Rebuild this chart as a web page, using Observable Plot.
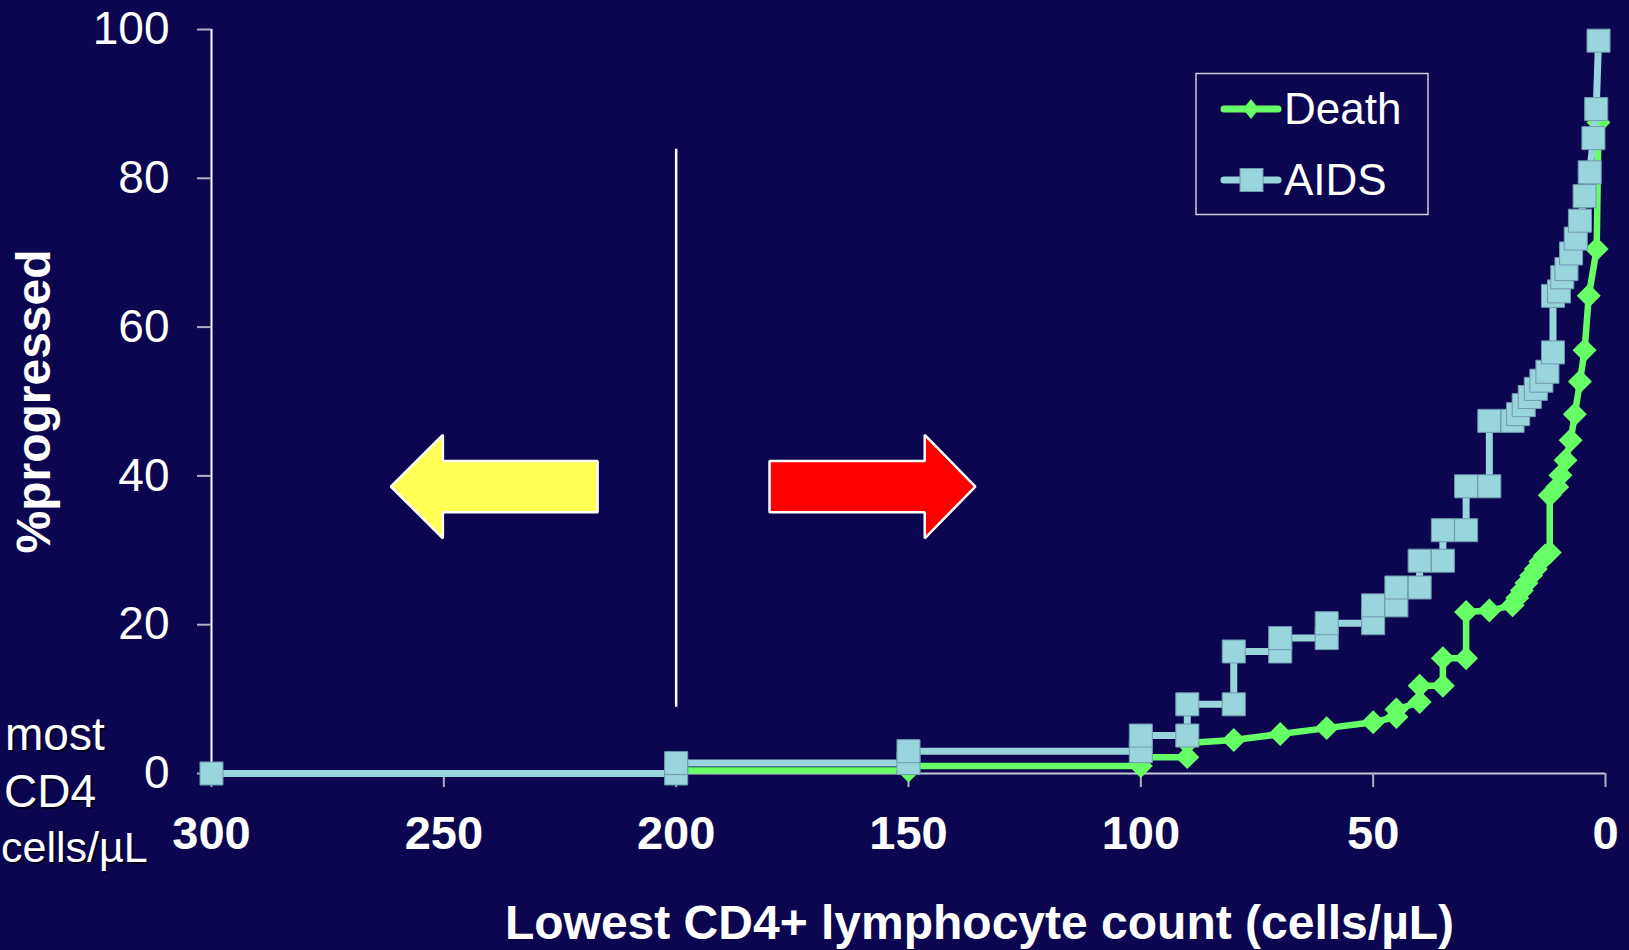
<!DOCTYPE html>
<html>
<head>
<meta charset="utf-8">
<script src="https://cdn.jsdelivr.net/npm/d3@7"></script>
<script src="https://cdn.jsdelivr.net/npm/@observablehq/plot@0.6"></script>
<style>
html, body { margin: 0; padding: 0; background: #0b064f; }
#wrap { position: relative; width: 1629px; height: 950px; overflow: hidden; font-family: "Liberation Sans", Arial, sans-serif; }
#overlay { position: absolute; left: 0; top: 0; pointer-events: none; }
</style>
</head>
<body>
<div id="wrap"></div>
<script>
// ---- data ----
const xTicks = [300, 250, 200, 150, 100, 50, 0];
const yTicks = [0, 20, 40, 60, 80, 100];

const deathCD4 = [300, 200, 200, 150, 150, 100, 100, 90, 90, 80, 70, 60, 50, 45, 45, 40, 40, 35, 35, 30, 30, 25, 20, 19, 18, 17, 16, 15, 14, 13, 12, 12, 10.4, 9.7, 8.6, 7.5, 6.6, 5.5, 4.5, 3.6, 1.9, 1.5];
const deathPct = [0, 0, 0.4, 0.4, 1.0, 1.0, 2.2, 2.2, 4.1, 4.5, 5.3, 6.1, 6.9, 7.6, 8.6, 9.6, 11.8, 11.8, 15.5, 15.5, 21.7, 21.9, 22.6, 23.6, 24.6, 25.6, 26.6, 27.5, 28.5, 29.3, 29.7, 37.4, 38.5, 40.1, 42.1, 44.8, 48.3, 52.7, 56.9, 64.2, 70.5, 87.5];

const aidsCD4 = [300, 200, 200, 150, 150, 100, 100, 90, 90, 80, 80, 70, 70, 60, 60, 50, 50, 45, 45, 40, 40, 35, 35, 30, 30, 25, 25, 20, 18.8, 17.6, 16.3, 15.0, 13.8, 12.5, 11.3, 11.3, 10.0, 9.3, 8.4, 7.4, 6.4, 5.5, 4.5, 3.4, 2.6, 2.0, 1.5];
const aidsPct = [0, 0, 1.4, 1.4, 3.0, 3.0, 5.1, 5.1, 9.3, 9.3, 16.4, 16.4, 18.2, 18.2, 20.2, 20.2, 22.6, 22.6, 25.0, 25.0, 28.6, 28.6, 32.7, 32.7, 38.6, 38.6, 47.4, 47.4, 48.3, 49.5, 50.6, 51.7, 52.8, 54.0, 56.6, 64.2, 64.8, 66.7, 67.8, 69.9, 71.9, 74.3, 77.6, 80.8, 85.4, 89.3, 98.5];

const seriesNames = ["Death", "AIDS"];
const seriesColors = ["#66ff66", "#99d5dc"];

const cutoffCD4 = [200];
const cutoffFrom = [8.9];
const cutoffTo = [83.9];

const arrowTail = [216.8, 179.8];
const arrowHeadBase = [250.1, 146.4];
const arrowTip = [261.3, 135.5];
const arrowCenter = [38.5, 38.5];
const arrowBodyHalf = [3.45, 3.45];
const arrowHeadHalf = [6.95, 6.95];
const arrowColors = ["#ffff55", "#ff0000"];

const xLabel = "Lowest CD4+ lymphocyte count (cells/µL)";
const yLabel = "%progressed";
const sideNote = ["most", "CD4", "cells/µL"];

// ---- build tables ----
const death = deathCD4.map((x, i) => ({x, y: deathPct[i]}));
const aids = aidsCD4.map((x, i) => ({x, y: aidsPct[i]}));
const cutoff = cutoffCD4.map((x, i) => ({x, y1: cutoffFrom[i], y2: cutoffTo[i]}));
const arrows = arrowTail.map((t, i) => {
  const c = arrowCenter[i], b = arrowBodyHalf[i], h = arrowHeadHalf[i];
  return [
    {x: t, y1: c - b, y2: c + b},
    {x: arrowHeadBase[i], y1: c - b, y2: c + b},
    {x: arrowHeadBase[i], y1: c - h, y2: c + h},
    {x: arrowTip[i], y1: c, y2: c}
  ];
});

const font = "'Liberation Sans', Arial, sans-serif";

const chart = Plot.plot({
  width: 1629,
  height: 950,
  marginLeft: 211,
  marginRight: 24,
  marginTop: 29,
  marginBottom: 177,
  style: {background: "#0b064f", color: "white", fontFamily: font, overflow: "visible"},
  x: {domain: [300, 0], ticks: xTicks},
  y: {domain: [0, 100], ticks: yTicks},
  marks: [
    ...arrows.map((pts, i) => Plot.areaY(pts, {x: "x", y1: "y1", y2: "y2", fill: arrowColors[i], stroke: "white", strokeWidth: 2.5, strokeLinejoin: "miter"})),
    Plot.ruleX(cutoff, {x: "x", y1: "y1", y2: "y2", stroke: "white", strokeWidth: 2.5}),
    Plot.ruleY([0], {stroke: "#c8c8d8", strokeWidth: 2}),
    Plot.ruleX([300], {stroke: "white", strokeWidth: 2}),
    Plot.axisX({ticks: xTicks, tickSize: 14, tickPadding: 28, stroke: "#b0b0c8", strokeWidth: 2, fill: "white", fontSize: 47, fontWeight: "bold", fontFamily: font, label: null, tickFormat: d => String(d)}),
    Plot.axisY({ticks: yTicks, tickSize: 14, tickPadding: 28, stroke: "#b0b0c8", strokeWidth: 2, fill: "white", fontSize: 46, fontFamily: font, label: null}),
    Plot.line(death, {x: "x", y: "y", stroke: seriesColors[0], strokeWidth: 6.5}),
    Plot.dot(death, {x: "x", y: "y", symbol: "diamond2", r: 10.8, fill: seriesColors[0], stroke: "none"}),
    Plot.line(aids, {x: "x", y: "y", stroke: seriesColors[1], strokeWidth: 7}),
    Plot.dot(aids, {x: "x", y: "y", symbol: "square", r: 13, fill: seriesColors[1], stroke: "#6f98ad", strokeWidth: 1}),
    Plot.text([xLabel], {text: d => d, frameAnchor: "bottom", dx: 71, dy: 165, lineAnchor: "bottom", fontSize: 48, fontWeight: "bold", fill: "white", fontFamily: font}),
    Plot.text([yLabel], {text: d => d, frameAnchor: "left", textAnchor: "middle", lineAnchor: "middle", dx: -177, rotate: -90, fontSize: 48, fontWeight: "bold", fill: "white", fontFamily: font})
  ]
});

const wrap = document.getElementById("wrap");
wrap.appendChild(chart);

// ---- overlay: legend and side note ----
const ov = d3.select(wrap).append("svg").attr("id", "overlay").attr("width", 1629).attr("height", 950)
  .style("font-family", font);

// side note at the left edge
const noteStart = [5, 4, 1];
const noteBase = [750, 807, 862];
const noteSize = [46, 46, 43];
sideNote.forEach((t, i) => {
  ov.append("text").attr("x", noteStart[i] + 2).attr("y", noteBase[i] + 2)
    .attr("font-size", noteSize[i]).attr("fill", "#000018").attr("opacity", 0.8).text(t);
  ov.append("text").attr("x", noteStart[i]).attr("y", noteBase[i])
    .attr("font-size", noteSize[i]).attr("fill", "white").text(t);
});

// legend
ov.append("rect").attr("x", 1196).attr("y", 73.5).attr("width", 232).attr("height", 141)
  .attr("fill", "none").attr("stroke", "#c8c8d8").attr("stroke-width", 1.5);
const legY = [109, 180];
seriesNames.forEach((name, i) => {
  const y = legY[i];
  ov.append("line").attr("x1", 1224).attr("x2", 1278).attr("y1", y).attr("y2", y)
    .attr("stroke", seriesColors[i]).attr("stroke-width", 7).attr("stroke-linecap", "round");
  if (i === 0) {
    ov.append("path").attr("d", `M1251,${y - 10}L1259,${y}L1251,${y + 10}L1243,${y}Z`).attr("fill", seriesColors[i]);
  } else {
    ov.append("rect").attr("x", 1240).attr("y", y - 11.5).attr("width", 23).attr("height", 23)
      .attr("fill", seriesColors[i]).attr("stroke", "#6f98ad").attr("stroke-width", 1);
  }
  ov.append("text").attr("x", 1284).attr("y", y + 15).attr("font-size", 44).attr("fill", "white").text(name);
});
</script>
</body>
</html>
